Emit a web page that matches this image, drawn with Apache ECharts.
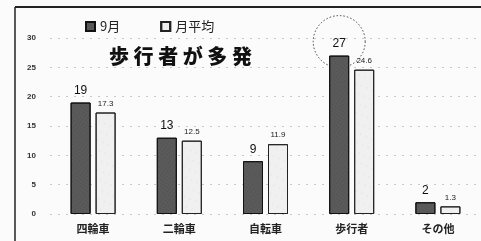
<!DOCTYPE html>
<html>
<head>
<meta charset="utf-8">
<script src="https://cdn.jsdelivr.net/npm/echarts@6/dist/echarts.min.js"></script>
<style>
  html, body { margin: 0; padding: 0; background: #fbfbfb; }
  #chart { width: 481px; height: 241px; }
</style>
</head>
<body>
<div id="chart"></div>
<script>
  const categories = ['四輪車', '二輪車', '自転車', '歩行者', 'その他'];
  const september = [19, 13, 9, 27, 2];
  const monthlyAvg = [17.3, 12.5, 11.9, 24.6, 1.3];
  const yTicks = [0, 5, 10, 15, 20, 25, 30];

  const jp = '"Noto Sans CJK JP", sans-serif';
  const chart = echarts.init(document.getElementById('chart'));

  const option = {
    animation: false,
    backgroundColor: '#fbfbfb',
    grid: { left: 50, right: 0, top: 38, bottom: 27 },
    legend: {
      left: 80,
      top: 15,
      icon: 'rect',
      itemWidth: 9,
      itemHeight: 9,
      itemGap: 40,
      textStyle: { fontFamily: jp, fontSize: 13, color: '#222' },
      data: ['9月', '月平均'],
    },
    title: {
      text: '歩 行 者 が 多 発',
      left: 104,
      top: 41,
      textStyle: { fontFamily: jp, fontSize: 20, fontWeight: 900, color: '#111' },
    },
    xAxis: {
      type: 'category',
      data: categories,
      axisLine: { show: false },
      axisTick: { show: false },
      axisLabel: { fontFamily: jp, fontSize: 11, fontWeight: 'bold', color: '#222', margin: 9 },
    },
    yAxis: {
      type: 'value',
      min: yTicks[0],
      max: yTicks[yTicks.length - 1],
      interval: 5,
      axisLine: { show: false },
      axisTick: { show: false },
      axisLabel: { fontSize: 8, fontWeight: 'bold', color: '#333', margin: 14 },
      splitLine: { lineStyle: { color: '#c8c8c8', type: [2, 6] } },
    },
    series: [
      {
        name: '9月',
        type: 'bar',
        data: september,
        barWidth: 20,
        barGap: '25%',
        itemStyle: {
          color: '#5a5a5a',
          borderColor: '#111',
          borderWidth: 1,
          decal: { symbol: 'rect', symbolSize: 0.5, color: 'rgba(20,20,20,0.7)', dashArrayX: [1, 2], dashArrayY: [1, 2], rotation: 0.6 },
        },
        label: { show: true, position: 'top', fontSize: 12, color: '#111', distance: 6 },
      },
      {
        name: '月平均',
        type: 'bar',
        data: monthlyAvg,
        barWidth: 20,
        itemStyle: {
          color: '#f0f0f0',
          borderColor: '#222',
          borderWidth: 1,
          decal: { symbol: 'circle', symbolSize: 0.6, color: 'rgba(90,90,90,0.6)', dashArrayX: [1, 5], dashArrayY: [2, 7], rotation: 0.4 },
        },
        label: { show: true, position: 'top', fontSize: 8, color: '#222', distance: 5 },
      },
    ],
  };

  chart.setOption(option);

  // dashed circle round the pedestrian label
  const p = chart.convertToPixel({ seriesIndex: 0 }, [3, september[3]]);
  const cx = p[0] - 12.5;
  chart.setOption({
    graphic: [
      { type: 'line', shape: { x1: 15, y1: 7, x2: 481, y2: 7 }, style: { stroke: '#222', lineWidth: 2 } },
      { type: 'line', shape: { x1: 15, y1: 7, x2: 15, y2: 241 }, style: { stroke: '#222', lineWidth: 1.5 } },
      { type: 'circle', shape: { cx: cx, cy: p[1] - 14, r: 26 }, style: { fill: 'none', stroke: '#444', lineWidth: 1, lineDash: [1.5, 2] } },
    ],
  });
</script>
</body>
</html>
